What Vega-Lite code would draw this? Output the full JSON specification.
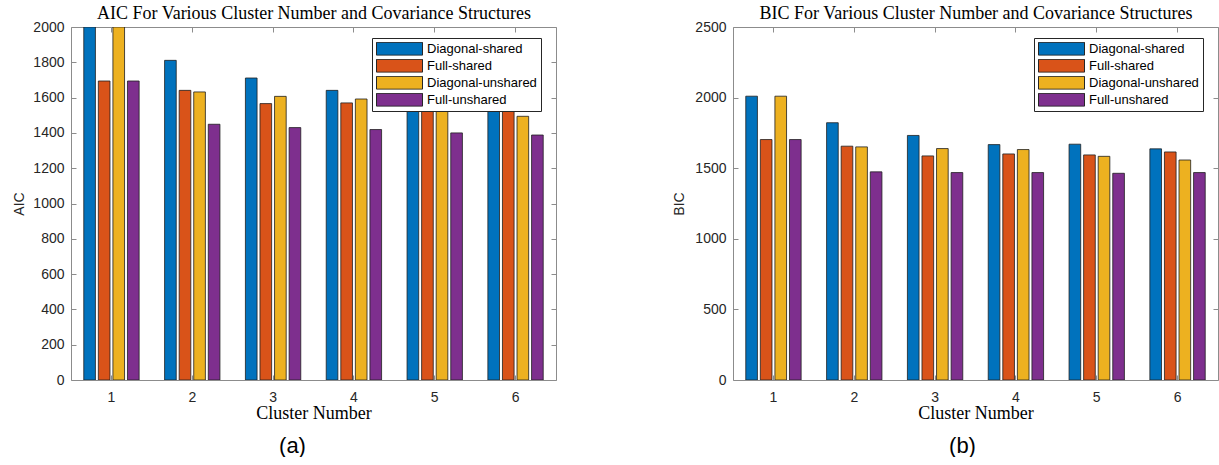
{
  "$schema": "https://vega.github.io/schema/vega-lite/v6.json",
  "background": "white",
  "padding": {"left": 12, "top": 4, "right": 0, "bottom": 0},
  "datasets": {
    "aic": [
      {"cluster": 1, "structure": "Diagonal-shared", "value": 2000},
      {"cluster": 1, "structure": "Full-shared", "value": 1694},
      {"cluster": 1, "structure": "Diagonal-unshared", "value": 2000},
      {"cluster": 1, "structure": "Full-unshared", "value": 1694},
      {"cluster": 2, "structure": "Diagonal-shared", "value": 1811},
      {"cluster": 2, "structure": "Full-shared", "value": 1641},
      {"cluster": 2, "structure": "Diagonal-unshared", "value": 1632},
      {"cluster": 2, "structure": "Full-unshared", "value": 1449},
      {"cluster": 3, "structure": "Diagonal-shared", "value": 1711},
      {"cluster": 3, "structure": "Full-shared", "value": 1566},
      {"cluster": 3, "structure": "Diagonal-unshared", "value": 1607},
      {"cluster": 3, "structure": "Full-unshared", "value": 1430},
      {"cluster": 4, "structure": "Diagonal-shared", "value": 1641},
      {"cluster": 4, "structure": "Full-shared", "value": 1570},
      {"cluster": 4, "structure": "Diagonal-unshared", "value": 1592},
      {"cluster": 4, "structure": "Full-unshared", "value": 1419},
      {"cluster": 5, "structure": "Diagonal-shared", "value": 1639},
      {"cluster": 5, "structure": "Full-shared", "value": 1558},
      {"cluster": 5, "structure": "Diagonal-unshared", "value": 1532},
      {"cluster": 5, "structure": "Full-unshared", "value": 1400},
      {"cluster": 6, "structure": "Diagonal-shared", "value": 1601},
      {"cluster": 6, "structure": "Full-shared", "value": 1574},
      {"cluster": 6, "structure": "Diagonal-unshared", "value": 1494},
      {"cluster": 6, "structure": "Full-unshared", "value": 1388}
    ],
    "bic": [
      {"cluster": 1, "structure": "Diagonal-shared", "value": 2010},
      {"cluster": 1, "structure": "Full-shared", "value": 1703},
      {"cluster": 1, "structure": "Diagonal-unshared", "value": 2010},
      {"cluster": 1, "structure": "Full-unshared", "value": 1703},
      {"cluster": 2, "structure": "Diagonal-shared", "value": 1822},
      {"cluster": 2, "structure": "Full-shared", "value": 1656},
      {"cluster": 2, "structure": "Diagonal-unshared", "value": 1651},
      {"cluster": 2, "structure": "Full-unshared", "value": 1474},
      {"cluster": 3, "structure": "Diagonal-shared", "value": 1732},
      {"cluster": 3, "structure": "Full-shared", "value": 1587},
      {"cluster": 3, "structure": "Diagonal-unshared", "value": 1639},
      {"cluster": 3, "structure": "Full-unshared", "value": 1469},
      {"cluster": 4, "structure": "Diagonal-shared", "value": 1667},
      {"cluster": 4, "structure": "Full-shared", "value": 1601},
      {"cluster": 4, "structure": "Diagonal-unshared", "value": 1632},
      {"cluster": 4, "structure": "Full-unshared", "value": 1469},
      {"cluster": 5, "structure": "Diagonal-shared", "value": 1670},
      {"cluster": 5, "structure": "Full-shared", "value": 1594},
      {"cluster": 5, "structure": "Diagonal-unshared", "value": 1584},
      {"cluster": 5, "structure": "Full-unshared", "value": 1464},
      {"cluster": 6, "structure": "Diagonal-shared", "value": 1637},
      {"cluster": 6, "structure": "Full-shared", "value": 1615},
      {"cluster": 6, "structure": "Diagonal-unshared", "value": 1558},
      {"cluster": 6, "structure": "Full-unshared", "value": 1469}
    ]
  },
  "config": {
    "view": {"stroke": null},
    "concat": {"spacing": 115},
    "axis": {
      "grid": false,
      "labelFont": "Liberation Sans",
      "labelFontSize": 14,
      "labelColor": "#262626",
      "titleFont": "Liberation Sans",
      "titleFontSize": 14,
      "titleFontWeight": "normal",
      "titleColor": "#262626",
      "domainColor": "#8c8c8c",
      "domainWidth": 1,
      "tickColor": "#8c8c8c",
      "tickSize": -5
    },
    "legend": {
      "orient": "none",
      "legendX": 301,
      "legendY": 11,
      "padding": 4,
      "fillColor": "white",
      "strokeColor": "#262626",
      "symbolType": "M-1,-0.28H1V0.28H-1Z",
      "symbolSize": 2116,
      "symbolStrokeColor": "#262626",
      "symbolStrokeWidth": 1,
      "symbolOpacity": 1,
      "clipHeight": 13.5,
      "labelFont": "Liberation Sans",
      "labelFontSize": 13,
      "labelColor": "#000000",
      "labelOffset": 4,
      "rowPadding": 3
    }
  },
  "hconcat": [
    {
      "title": {"text": "(a)", "orient": "bottom", "anchor": "middle", "font": "Liberation Sans", "fontSize": 22, "fontWeight": "normal", "color": "#000000", "offset": 14, "dx": -21},
      "width": 485,
      "height": 353,
      "data": {"name": "aic"},
      "layer": [
        {
          "mark": {"type": "bar", "stroke": "#1f1f1f", "strokeWidth": 0.8, "clip": true},
          "encoding": {
            "x": {"field": "cluster", "type": "ordinal", "scale": {"paddingInner": 0.279, "paddingOuter": 0.14},
                  "axis": {"orient": "bottom", "title": "Cluster Number", "titleFont": "Liberation Serif", "titleFontSize": 18, "titleColor": "#000000", "titlePadding": 0, "labelAngle": 0, "labelPadding": 15}},
            "xOffset": {"field": "structure", "type": "nominal", "sort": ["Diagonal-shared", "Full-shared", "Diagonal-unshared", "Full-unshared"], "scale": {"paddingInner": 0.2, "paddingOuter": 0.1}},
            "y": {"field": "value", "type": "quantitative", "stack": null, "scale": {"domain": [0, 2000], "nice": false},
                  "axis": {"orient": "left", "title": "AIC", "format": "d", "titlePadding": 6, "values": [0, 200, 400, 600, 800, 1000, 1200, 1400, 1600, 1800, 2000], "labelPadding": 12}},
            "color": {"field": "structure", "type": "nominal",
                      "scale": {"domain": ["Diagonal-shared", "Full-shared", "Diagonal-unshared", "Full-unshared"], "range": ["#0072BD", "#D95319", "#EDB120", "#7E2F8E"]},
                      "legend": {"title": null}}
          }
        },
        {
          "mark": {"type": "bar", "opacity": 0, "clip": true},
          "encoding": {
            "x": {"field": "cluster", "type": "ordinal", "axis": {"orient": "top", "title": "AIC For Various Cluster Number and Covariance Structures", "titleFont": "Liberation Serif", "titleFontSize": 18, "titleColor": "#000000", "titlePadding": 4, "labels": false}},
            "y": {"field": "value", "type": "quantitative", "stack": null, "axis": {"orient": "right", "title": null, "labels": false, "values": [0, 200, 400, 600, 800, 1000, 1200, 1400, 1600, 1800, 2000]}}
          }
        }
      ],
      "resolve": {"axis": {"x": "independent", "y": "independent"}}
    },
    {
      "title": {"text": "(b)", "orient": "bottom", "anchor": "middle", "font": "Liberation Sans", "fontSize": 22, "fontWeight": "normal", "color": "#000000", "offset": 14, "dx": -13},
      "width": 485,
      "height": 353,
      "data": {"name": "bic"},
      "layer": [
        {
          "mark": {"type": "bar", "stroke": "#1f1f1f", "strokeWidth": 0.8, "clip": true},
          "encoding": {
            "x": {"field": "cluster", "type": "ordinal", "scale": {"paddingInner": 0.279, "paddingOuter": 0.14},
                  "axis": {"orient": "bottom", "title": "Cluster Number", "titleFont": "Liberation Serif", "titleFontSize": 18, "titleColor": "#000000", "titlePadding": 0, "labelAngle": 0, "labelPadding": 15}},
            "xOffset": {"field": "structure", "type": "nominal", "sort": ["Diagonal-shared", "Full-shared", "Diagonal-unshared", "Full-unshared"], "scale": {"paddingInner": 0.2, "paddingOuter": 0.1}},
            "y": {"field": "value", "type": "quantitative", "stack": null, "scale": {"domain": [0, 2500], "nice": false},
                  "axis": {"orient": "left", "title": "BIC", "format": "d", "titlePadding": 8, "values": [0, 500, 1000, 1500, 2000, 2500], "labelPadding": 12}},
            "color": {"field": "structure", "type": "nominal",
                      "scale": {"domain": ["Diagonal-shared", "Full-shared", "Diagonal-unshared", "Full-unshared"], "range": ["#0072BD", "#D95319", "#EDB120", "#7E2F8E"]},
                      "legend": {"title": null}}
          }
        },
        {
          "mark": {"type": "bar", "opacity": 0, "clip": true},
          "encoding": {
            "x": {"field": "cluster", "type": "ordinal", "axis": {"orient": "top", "title": "BIC For Various Cluster Number and Covariance Structures", "titleFont": "Liberation Serif", "titleFontSize": 18, "titleColor": "#000000", "titlePadding": 4, "labels": false}},
            "y": {"field": "value", "type": "quantitative", "stack": null, "axis": {"orient": "right", "title": null, "labels": false, "values": [0, 500, 1000, 1500, 2000, 2500]}}
          }
        }
      ],
      "resolve": {"axis": {"x": "independent", "y": "independent"}}
    }
  ],
  "resolve": {"scale": {"color": "independent"}, "legend": {"color": "independent"}}
}
